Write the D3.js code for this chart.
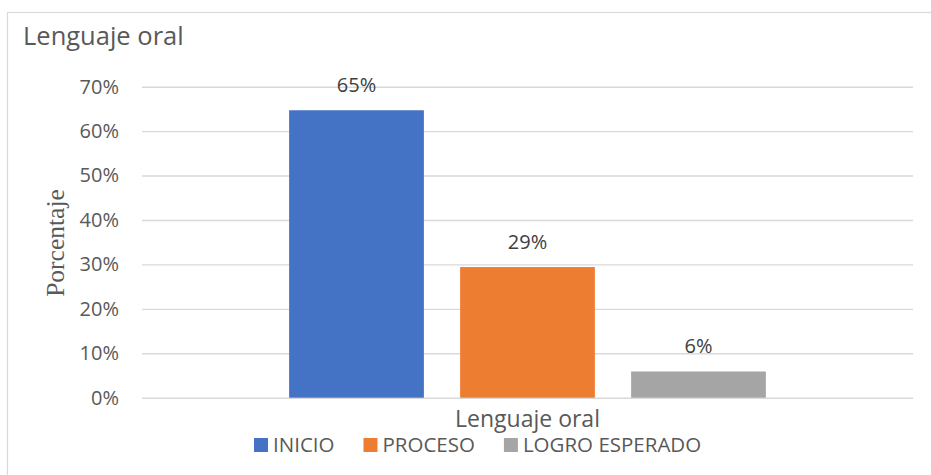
<!DOCTYPE html>
<html>
<head>
<meta charset="utf-8">
<script src="https://cdn.jsdelivr.net/npm/d3@7"></script>
<style>
  body { margin: 0; background: #fff; }
  text { font-family: "Open Sans", "Noto Sans", sans-serif; }
</style>
</head>
<body>
<script>
// data ---------------------------------------------------------------
var categories = ["Lenguaje oral"];
var series = ["INICIO", "PROCESO", "LOGRO ESPERADO"];
var values = [0.647, 0.294, 0.059];
var colors = ["#4472C4", "#ED7D31", "#A5A5A5"];
var yTicks = [0, 0.1, 0.2, 0.3, 0.4, 0.5, 0.6, 0.7];

var width = 931, height = 475;
var plot = { left: 142, right: 913, top: 86.7, bottom: 397.7 };

var svg = d3.select("body").append("svg")
  .attr("width", width)
  .attr("height", height);

// chart frame
svg.append("rect")
  .attr("x", 7.5).attr("y", 12.5)
  .attr("width", 960).attr("height", 500)
  .style("fill", "#fff")
  .style("stroke", "#d9d9d9")
  .style("stroke-width", 1.2);

// scales
var y = d3.scaleLinear().domain([0, 0.7]).range([plot.bottom, plot.top]);

var x0 = d3.scaleBand()
  .domain(categories)
  .range([plot.left, plot.right])
  .paddingInner(0)
  .paddingOuter(0.2515);

var x1 = d3.scaleBand()
  .domain(series)
  .range([x0(categories[0]), x0(categories[0]) + x0.bandwidth()])
  .paddingInner(0.212)
  .paddingOuter(0.106);

// gridlines + y axis
var yAxis = svg.append("g")
  .attr("transform", "translate(" + plot.left + ",0)")
  .call(d3.axisLeft(y)
    .tickValues(yTicks)
    .tickSize(-(plot.right - plot.left))
    .tickPadding(23)
    .tickFormat(d3.format(".0%")));

yAxis.select(".domain").remove();
yAxis.selectAll(".tick line")
  .style("stroke", "#d9d9d9")
  .style("stroke-width", 1.4);
yAxis.selectAll(".tick text")
  .style("font-size", "20px")
  .style("fill", "#595959")
  .style("font-family", "'Open Sans', sans-serif");

// bars
svg.append("g").selectAll("rect")
  .data(series)
  .enter().append("rect")
  .attr("x", function(d) { return x1(d); })
  .attr("y", function(d, i) { return y(values[i]); })
  .attr("width", x1.bandwidth())
  .attr("height", function(d, i) { return y(0) - y(values[i]); })
  .style("fill", function(d, i) { return colors[i]; });

// data labels
svg.append("g").selectAll("text")
  .data(series)
  .enter().append("text")
  .attr("x", function(d) { return x1(d) + x1.bandwidth() / 2; })
  .attr("y", function(d, i) { return y(values[i]) - 18; })
  .attr("text-anchor", "middle")
  .style("font-size", "20px")
  .style("fill", "#404040")
  .text(function(d, i) { return d3.format(".0%")(values[i]); });

// category label under the axis
svg.append("text")
  .attr("x", x0(categories[0]) + x0.bandwidth() / 2)
  .attr("y", 427)
  .attr("text-anchor", "middle")
  .style("font-size", "23px")
  .style("fill", "#595959")
  .text(categories[0]);

// chart title
svg.append("text")
  .attr("x", 23)
  .attr("y", 45)
  .style("font-size", "25.5px")
  .style("fill", "#595959")
  .text("Lenguaje oral");

// y axis title
svg.append("text")
  .attr("transform", "translate(63.5,243) rotate(-90)")
  .attr("text-anchor", "middle")
  .style("font-family", "'Liberation Serif', 'Times New Roman', serif")
  .style("font-size", "25.5px")
  .style("fill", "#595959")
  .text("Porcentaje");

// legend
var legend = svg.append("g").attr("class", "legend");
var lx = 254;
series.forEach(function(s, i) {
  legend.append("rect")
    .attr("x", lx).attr("y", 438)
    .attr("width", 14).attr("height", 14)
    .style("fill", colors[i]);
  var t = legend.append("text")
    .attr("x", lx + 19)
    .attr("y", 452)
    .style("font-size", "20.5px")
    .style("fill", "#595959")
    .text(s);
  lx += 19 + t.node().getComputedTextLength() + 29;
});
</script>
</body>
</html>
